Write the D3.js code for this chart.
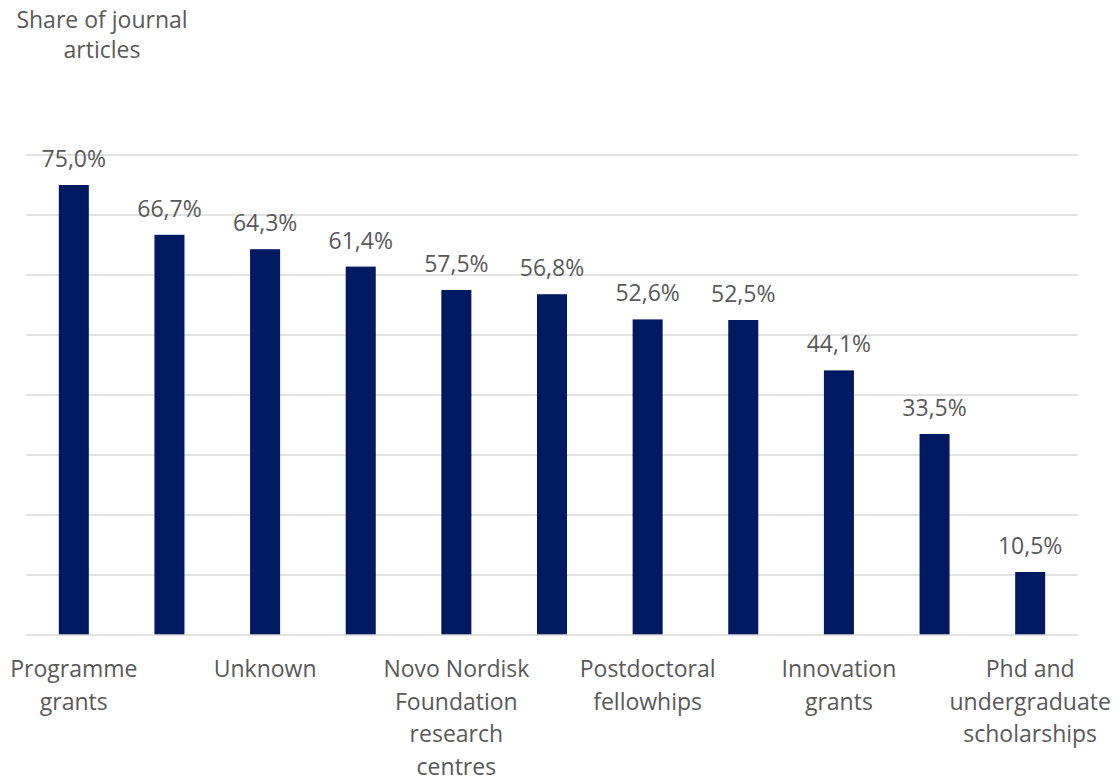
<!DOCTYPE html>
<html>
<head>
  <meta charset="utf-8" />
  <script src="https://cdn.jsdelivr.net/npm/d3@7"></script>
  <style>
    body { margin: 0; background: #fff; }
    text { font-family: "Open Sans", sans-serif; fill: #595959; }
  </style>
</head>
<body>
<div id="chart"></div>
<script>
  // categories (only every other label is shown on the axis, as in the original)
  var categories = [
    ["Programme", "grants"],
    [],
    ["Unknown"],
    [],
    ["Novo Nordisk", "Foundation", "research", "centres"],
    [],
    ["Postdoctoral", "fellowhips"],
    [],
    ["Innovation", "grants"],
    [],
    ["Phd and", "undergraduate", "scholarships"]
  ];
  var values = [75.0, 66.7, 64.3, 61.4, 57.5, 56.8, 52.6, 52.5, 44.1, 33.5, 10.5];
  var gridTicks = [10, 20, 30, 40, 50, 60, 70, 80];
  var titleLines = ["Share of journal", "articles"];

  var width = 1117, height = 780;
  var plotLeft = 26, plotRight = 1078, plotTop = 155, plotBottom = 635;

  var svg = d3.select('#chart').append('svg')
    .attr('width', width)
    .attr('height', height);

  var x = d3.scaleBand()
    .domain(d3.range(values.length))
    .range([plotLeft, plotRight])
    .paddingInner(0.686)
    .paddingOuter(0.343);

  var y = d3.scaleLinear()
    .domain([0, 80])
    .range([plotBottom, plotTop]);

  // gridlines
  svg.append('g').selectAll('line')
    .data(gridTicks)
    .enter().append('line')
    .attr('x1', plotLeft).attr('x2', plotRight)
    .attr('y1', function(d) { return y(d); })
    .attr('y2', function(d) { return y(d); })
    .attr('stroke', '#d9d9d9')
    .attr('stroke-width', 1.3);

  // bars
  svg.append('g').selectAll('rect')
    .data(values)
    .enter().append('rect')
    .attr('x', function(d, i) { return x(i); })
    .attr('width', x.bandwidth())
    .attr('y', function(d) { return y(d); })
    .attr('height', function(d) { return y(0) - y(d); })
    .attr('fill', '#001a61');

  // baseline
  svg.append('line')
    .attr('x1', plotLeft).attr('x2', plotRight)
    .attr('y1', y(0)).attr('y2', y(0))
    .attr('stroke', '#d9d9d9')
    .attr('stroke-width', 1.3);

  // value labels
  svg.append('g').selectAll('text')
    .data(values)
    .enter().append('text')
    .attr('x', function(d, i) { return x(i) + x.bandwidth() / 2; })
    .attr('y', function(d) { return y(d) - 18; })
    .attr('text-anchor', 'middle')
    .style('font-size', '23px')
    .text(function(d) { return d.toFixed(1).replace('.', ',') + '%'; });

  // category labels
  var cat = svg.append('g').selectAll('text')
    .data(categories)
    .enter().append('text')
    .attr('text-anchor', 'middle')
    .style('font-size', '23px');
  cat.each(function(lines, i) {
    var t = d3.select(this);
    lines.forEach(function(s, j) {
      t.append('tspan')
        .attr('x', x(i) + x.bandwidth() / 2)
        .attr('y', 677 + j * 32.5)
        .text(s);
    });
  });

  // axis title
  var title = svg.append('text')
    .attr('text-anchor', 'middle')
    .style('font-size', '23px');
  titleLines.forEach(function(s, j) {
    title.append('tspan')
      .attr('x', 102)
      .attr('y', 28 + j * 30)
      .text(s);
  });
</script>
</body>
</html>
